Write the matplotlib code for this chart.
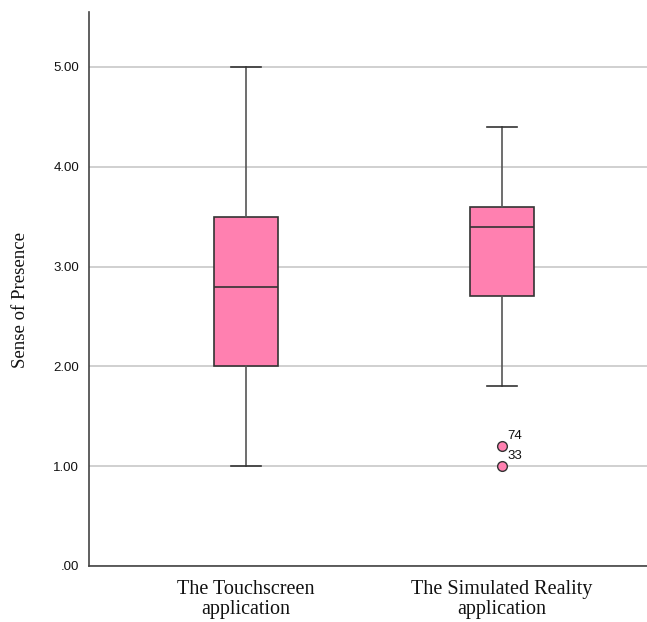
import matplotlib

matplotlib.use("Agg")
import matplotlib.pyplot as plt
from matplotlib.ticker import FuncFormatter

# Five-number summaries per group (whisker low, Q1, median, Q3, whisker high)
groups = ["The Touchscreen\napplication", "The Simulated Reality\napplication"]
whislo = [1.0, 1.8]
q1 = [2.0, 2.7]
med = [2.8, 3.4]
q3 = [3.5, 3.6]
whishi = [5.0, 4.4]

# Outliers of the second group with their case numbers
outlier_vals = [1.2, 1.0]
outlier_ids = ["74", "33"]

BOX_COLOR = "#FF80B0"
EDGE = "#333333"

stats = []
for i in range(len(groups)):
    stats.append({
        "whislo": whislo[i], "q1": q1[i], "med": med[i], "q3": q3[i],
        "whishi": whishi[i], "fliers": outlier_vals if i == 1 else [],
    })

fig = plt.figure(figsize=(6.47, 6.22), dpi=100)
ax = fig.add_axes([89 / 647, 1 - 566 / 622, 558 / 647, 554 / 622])

bp = ax.bxp(
    stats, positions=[1, 2], widths=0.25, patch_artist=True, showfliers=True,
    boxprops=dict(facecolor=BOX_COLOR, edgecolor=EDGE, linewidth=1.2),
    medianprops=dict(color=EDGE, linewidth=1.2),
    whiskerprops=dict(color="#555555", linewidth=1.2),
    capprops=dict(color=EDGE, linewidth=1.2),
    flierprops=dict(marker="o", markerfacecolor=BOX_COLOR, markeredgecolor=EDGE,
                    markersize=7, markeredgewidth=1),
    capwidths=0.12,
)
for b in bp["boxes"]:
    b.set_zorder(3)
for line in bp["medians"] + bp["whiskers"] + bp["caps"] + bp["fliers"]:
    line.set_zorder(4)

for v, lab in zip(outlier_vals, outlier_ids):
    ax.annotate(lab, (2, v), xytext=(4, 5), textcoords="offset points",
                fontsize=9.5, family="Liberation Sans", color="#111111")

ax.set_xlim(0.387, 2.566)
ax.set_ylim(0, 5.55)
ax.set_yticks([0, 1, 2, 3, 4, 5])
ax.yaxis.set_major_formatter(FuncFormatter(lambda v, _: f"{v:.2f}".lstrip("0") if v < 1 else f"{v:.2f}"))
ax.yaxis.grid(True, color="#C8C8C8", linewidth=1.2, zorder=0)
ax.set_axisbelow(True)
ax.tick_params(axis="y", length=0, pad=7, labelsize=9.5, labelcolor="#111111")
ax.tick_params(axis="x", length=0, pad=10)
ax.set_xticks([1, 2])
ax.set_xticklabels(groups, fontsize=14.5, family="Liberation Serif", linespacing=1.1,
                   color="#111111")
for t in ax.get_yticklabels():
    t.set_family("Liberation Sans")

ax.set_ylabel("Sense of Presence", fontsize=13.5, family="Liberation Serif", color="#111111")
ax.yaxis.set_label_coords(-60 / 558, (566 - 300) / 554)

for side in ("top", "right"):
    ax.spines[side].set_visible(False)
for side in ("left", "bottom"):
    ax.spines[side].set_color("#444444")
    ax.spines[side].set_linewidth(1.2)

fig.savefig("out.png", dpi=100)
